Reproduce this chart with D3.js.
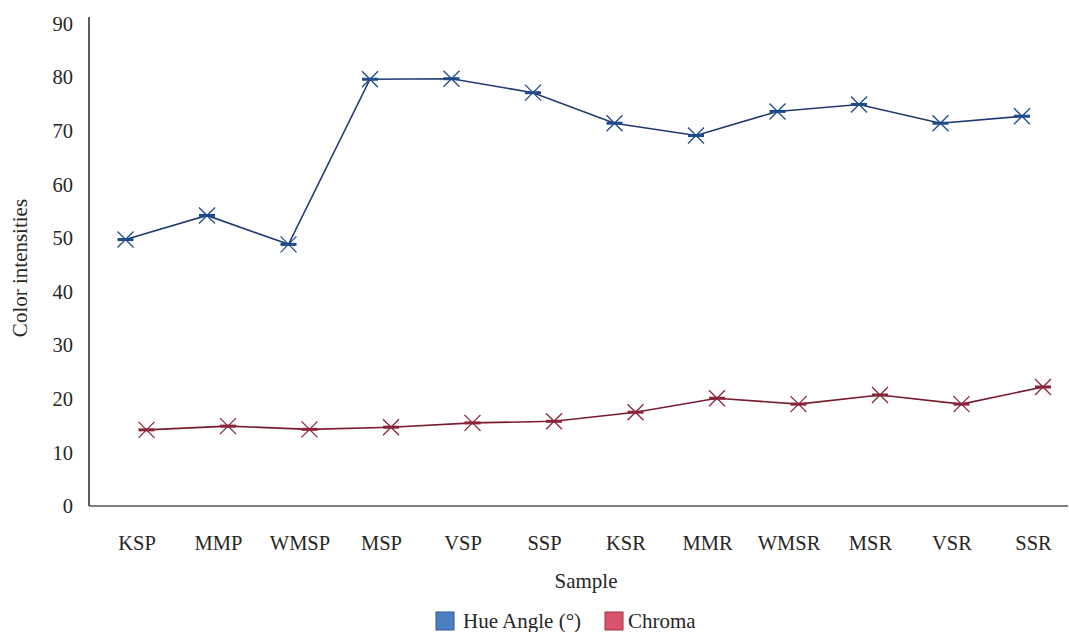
<!DOCTYPE html>
<html><head><meta charset="utf-8">
<script src="https://cdn.jsdelivr.net/npm/d3@7"></script>
<style>body{margin:0;background:#fff}svg{display:block}</style>
</head><body><svg id="c" width="1069" height="632" font-family="'Liberation Serif', 'Times New Roman', 'DejaVu Serif', serif"></svg>
<script>
const categories=["KSP","MMP","WMSP","MSP","VSP","SSP","KSR","MMR","WMSR","MSR","VSR","SSR"];
const hueAngle=[49.7,54.2,48.8,79.6,79.7,77.1,71.4,69.1,73.6,74.9,71.4,72.7];
const chroma=[14.2,14.9,14.3,14.7,15.5,15.8,17.5,20.1,19.0,20.7,19.0,22.2];
const yTicks=[0,10,20,30,40,50,60,70,80,90];
const seriesNames=["Hue Angle (°)","Chroma"];

const svg=d3.select("#c");
const x=d3.scalePoint().domain(categories).range([137,1033.5]);
const y=d3.scaleLinear().domain([0,90]).range([506,23.5]);
const axisLeft=89, axisRight=1068;
const txt="#262626";

svg.append("line").attr("x1",axisLeft).attr("x2",axisLeft).attr("y1",17).attr("y2",506).attr("stroke","#333").attr("stroke-width",1.6);
svg.append("line").attr("x1",axisLeft).attr("x2",axisRight).attr("y1",506).attr("y2",506).attr("stroke","#555").attr("stroke-width",1.6);
svg.append("g").selectAll("text").data(yTicks).join("text")
  .attr("x",73).attr("y",d=>y(d)).attr("dy","0.35em").attr("text-anchor","end").attr("font-size",20.5).attr("fill",txt).text(d=>d);
svg.append("g").selectAll("text").data(categories).join("text")
  .attr("x",d=>x(d)).attr("y",550).attr("text-anchor","middle").attr("font-size",20.5).attr("fill",txt).text(d=>d);
svg.append("text").attr("transform","translate(27,268) rotate(-90)").attr("text-anchor","middle").attr("font-size",21).attr("fill",txt).text("Color intensities");
svg.append("text").attr("x",586).attr("y",588).attr("text-anchor","middle").attr("font-size",21).attr("fill",txt).text("Sample");

function marker(g,cx,cy,color){
  const r=8;
  g.append("path").attr("d",`M${cx-r},${cy-r}L${cx+r},${cy+r}M${cx-r},${cy+r}L${cx+r},${cy-r}`).attr("stroke",color).attr("stroke-width",1.3).attr("fill","none");
  g.append("line").attr("x1",cx-8).attr("x2",cx+8).attr("y1",cy).attr("y2",cy).attr("stroke",color).attr("stroke-width",3);
}
function drawSeries(vals,offset,lineColor,markColor){
  const g=svg.append("g");
  const line=d3.line().x((d,i)=>x(categories[i])+offset).y(d=>y(d));
  g.append("path").datum(vals).attr("d",line).attr("fill","none").attr("stroke",lineColor).attr("stroke-width",1.6);
  vals.forEach((v,i)=>marker(g,x(categories[i])+offset,y(v),markColor));
}
drawSeries(hueAngle,-11.5,"#1f3a70","#1f4a8a");
drawSeries(chroma,9.5,"#7a1a2e","#8a2438");

const lg=svg.append("g");
lg.append("rect").attr("x",436).attr("y",612).attr("width",18).attr("height",18).attr("fill","#4a7fc0").attr("stroke","#2f5a92").attr("stroke-width",1);
lg.append("text").attr("x",463).attr("y",628).attr("font-size",21).attr("fill",txt).text(seriesNames[0]);
lg.append("rect").attr("x",605).attr("y",612).attr("width",18).attr("height",18).attr("fill","#d9546a").attr("stroke","#9c3345").attr("stroke-width",1);
lg.append("text").attr("x",628).attr("y",628).attr("font-size",21).attr("fill",txt).text(seriesNames[1]);
</script></body></html>
